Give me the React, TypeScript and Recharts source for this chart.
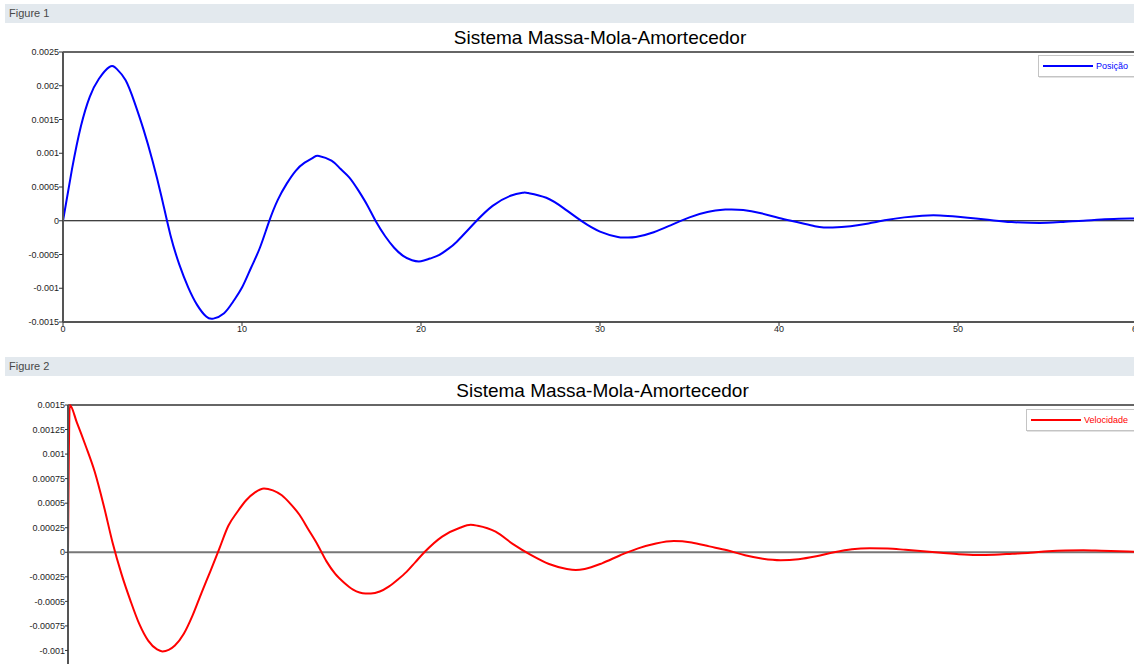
import React from 'react';
import { LineChart, Line, XAxis, YAxis, ReferenceLine, Legend } from 'recharts';

// valores (tempo em s)
const tempoPosicao = [
  0, 0.5, 1, 1.5, 2, 2.6, 3, 3.5, 4, 4.5, 5, 5.5, 6, 6.5, 7, 7.5, 8, 8.4, 9, 9.5, 10, 10.5,
  11, 11.5, 12, 12.5, 13, 13.5, 14, 14.3, 15, 15.5, 16, 16.5, 17, 17.5, 18, 18.5, 19, 19.5,
  20, 20.5, 21, 21.5, 22, 23, 24, 25, 25.7, 26, 27, 28, 29, 30, 31, 31.4, 32, 33, 34, 35, 36,
  37, 37.3, 38, 39, 40, 41, 42, 42.5, 43, 44, 45, 46, 47, 48, 49, 50, 51, 52, 53, 54, 55, 56,
  57, 58, 59, 60,
];
const posicao = [
  0, 0.76e-3, 1.4e-3, 1.84e-3, 2.1e-3, 2.28e-3, 2.25e-3, 2.08e-3, 1.75e-3, 1.35e-3, 0.89e-3,
  0.36e-3, -0.21e-3, -0.65e-3, -0.99e-3, -1.25e-3, -1.42e-3, -1.45e-3, -1.37e-3, -1.2e-3,
  -0.99e-3, -0.7e-3, -0.4e-3, -0.02e-3, 0.31e-3, 0.55e-3, 0.74e-3, 0.86e-3, 0.94e-3, 0.96e-3,
  0.89e-3, 0.77e-3, 0.64e-3, 0.45e-3, 0.23e-3, -0.02e-3, -0.23e-3, -0.4e-3, -0.52e-3,
  -0.585e-3, -0.6e-3, -0.56e-3, -0.51e-3, -0.42e-3, -0.31e-3, -0.03e-3, 0.22e-3, 0.37e-3,
  0.415e-3, 0.41e-3, 0.34e-3, 0.18e-3, -0.01e-3, -0.16e-3, -0.24e-3, -0.247e-3, -0.24e-3,
  -0.17e-3, -0.06e-3, 0.05e-3, 0.13e-3, 0.165e-3, 0.168e-3, 0.16e-3, 0.11e-3, 0.04e-3,
  -0.02e-3, -0.08e-3, -0.099e-3, -0.1e-3, -0.08e-3, -0.04e-3, 0.01e-3, 0.05e-3, 0.075e-3,
  0.078e-3, 0.06e-3, 0.035e-3, 0.005e-3, -0.02e-3, -0.03e-3, -0.03e-3, -0.015e-3, 0,
  0.02e-3, 0.03e-3, 0.035e-3,
];

const tempoVelocidade = [
  0, 0.1, 0.5, 1, 1.5, 2, 2.5, 3, 3.5, 4, 4.5, 5, 5.3, 6, 6.5, 7, 7.5, 8, 8.5, 9, 9.5, 10,
  10.5, 11, 11.5, 12, 12.5, 13, 13.5, 14, 14.5, 15, 15.5, 16, 16.7, 17, 17.5, 18, 18.5, 19,
  19.5, 20, 21, 22, 22.6, 23, 24, 25, 26, 27, 28, 28.5, 29, 30, 31, 32, 33, 34, 35, 36, 37,
  38, 39, 40, 41, 42, 43, 44, 45, 46, 47, 48, 49, 50, 51, 52, 53, 54, 55, 56, 57, 58, 59, 60,
];
const velocidade = [
  0, 1.5e-3, 1.32e-3, 1.08e-3, 0.82e-3, 0.48e-3, 0.1e-3, -0.22e-3, -0.49e-3, -0.73e-3,
  -0.9e-3, -0.99e-3, -1.01e-3, -0.95e-3, -0.83e-3, -0.64e-3, -0.41e-3, -0.19e-3, 0.04e-3,
  0.27e-3, 0.41e-3, 0.53e-3, 0.61e-3, 0.65e-3, 0.63e-3, 0.58e-3, 0.49e-3, 0.38e-3, 0.23e-3,
  0.08e-3, -0.09e-3, -0.22e-3, -0.31e-3, -0.38e-3, -0.42e-3, -0.42e-3, -0.4e-3, -0.35e-3,
  -0.28e-3, -0.2e-3, -0.1e-3, 0, 0.16e-3, 0.25e-3, 0.28e-3, 0.27e-3, 0.21e-3, 0.08e-3,
  -0.03e-3, -0.12e-3, -0.17e-3, -0.18e-3, -0.17e-3, -0.11e-3, -0.03e-3, 0.04e-3, 0.09e-3,
  0.115e-3, 0.1e-3, 0.06e-3, 0.02e-3, -0.03e-3, -0.065e-3, -0.08e-3, -0.07e-3, -0.04e-3, 0,
  0.03e-3, 0.04e-3, 0.038e-3, 0.025e-3, 0.01e-3, -0.005e-3, -0.02e-3, -0.027e-3, -0.025e-3,
  -0.015e-3, -0.005e-3, 0.01e-3, 0.018e-3, 0.02e-3, 0.015e-3, 0.01e-3, 0.005e-3,
];

const xTicks = [0, 10, 20, 30, 40, 50, 60];
const posTicks = [-0.0015, -0.001, -0.0005, 0, 0.0005, 0.001, 0.0015, 0.002, 0.0025];
const velTicks = [
  -0.001, -0.00075, -0.0005, -0.00025, 0, 0.00025, 0.0005, 0.00075, 0.001, 0.00125, 0.0015,
];

const dadosPos = tempoPosicao.map((t, i) => ({ t, posicao: posicao[i] }));
const dadosVel = tempoVelocidade.map((t, i) => ({ t, velocidade: velocidade[i] }));

const FONT = '"Liberation Sans", Arial, sans-serif';
const tickStyle = { fontSize: 9, fill: '#1e1e1e', fontFamily: FONT };

const LegendBox = (props: any) => {
  const item = props.payload && props.payload[0];
  if (!item) return null;
  return (
    <div
      style={{
        display: 'flex',
        alignItems: 'center',
        height: 22,
        width: props.boxWidth,
        border: '1px solid #c4c4c4',
        boxShadow: '1px 1px 0 #e2e2e2',
        background: '#fff',
        boxSizing: 'border-box',
        paddingLeft: 4,
      }}
    >
      <div style={{ width: 50, height: 2, background: item.color }} />
      <span style={{ marginLeft: 3, fontSize: 9, color: item.color, fontFamily: FONT }}>
        {item.value}
      </span>
    </div>
  );
};

const FigureBar = ({ label, top }: { label: string; top: number }) => (
  <div
    style={{
      position: 'absolute',
      left: 5,
      top,
      width: 1140,
      height: 19,
      background: '#e3e9ee',
      fontFamily: FONT,
      fontSize: 11,
      color: '#484848',
      lineHeight: '19px',
      paddingLeft: 4,
      boxSizing: 'border-box',
    }}
  >
    {label}
  </div>
);

const Titulo = ({ top, left, width }: { top: number; left: number; width: number }) => (
  <div
    style={{
      position: 'absolute',
      top,
      left,
      width,
      textAlign: 'center',
      fontFamily: FONT,
      fontSize: 19,
      lineHeight: '19px',
      color: '#000',
    }}
  >
    Sistema Massa-Mola-Amortecedor
  </div>
);

export default function App() {
  return (
    <div
      style={{
        position: 'relative',
        width: 1134,
        height: 664,
        overflow: 'hidden',
        background: '#fff',
      }}
    >
      <style>{'body{margin:0;overflow:hidden}'}</style>

      <FigureBar label="Figure 1" top={4} />
      <Titulo top={28} left={63} width={1074} />
      <div style={{ position: 'absolute', left: 0, top: 22 }}>
        <LineChart
          width={1160}
          height={330}
          data={dadosPos}
          margin={{ top: 30, right: 23, left: 0, bottom: 6 }}
        >
          <XAxis
            dataKey="t"
            type="number"
            domain={[0, 60]}
            ticks={xTicks}
            interval={0}
            height={24}
            tickSize={4}
            tickMargin={0}
            tick={tickStyle}
            axisLine={{ stroke: '#555', strokeWidth: 2 }}
            tickLine={{ stroke: '#333' }}
          />
          <YAxis
            type="number"
            domain={[-0.0015, 0.0025]}
            ticks={posTicks}
            interval={0}
            width={63}
            tickSize={4}
            tickMargin={0}
            tick={tickStyle}
            tickFormatter={(v: number) => String(v)}
            axisLine={{ stroke: '#555', strokeWidth: 2 }}
            tickLine={{ stroke: '#333' }}
          />
          <ReferenceLine y={0.0025} stroke="#333" strokeWidth={1.5} />
          <ReferenceLine y={0} stroke="#000" strokeWidth={1.2} />
          <Legend
            layout="vertical"
            align="center"
            verticalAlign="middle"
            wrapperStyle={{ left: 1038, top: 33, width: 110 }}
            content={(p: any) => <LegendBox {...p} boxWidth={110} />}
          />
          <Line
            type="natural"
            dataKey="posicao"
            name="Posição"
            stroke="#0000ff"
            strokeWidth={2}
            dot={false}
            isAnimationActive={false}
          />
        </LineChart>
      </div>

      <FigureBar label="Figure 2" top={357} />
      <Titulo top={381} left={68} width={1069} />
      <div style={{ position: 'absolute', left: 0, top: 375 }}>
        <LineChart
          width={1160}
          height={330}
          data={dadosVel}
          margin={{ top: 30, right: 23, left: 0, bottom: 30 }}
        >
          <XAxis dataKey="t" type="number" domain={[0, 60]} hide />
          <YAxis
            type="number"
            domain={[-0.00125, 0.0015]}
            ticks={velTicks}
            interval={0}
            width={68}
            tickSize={3}
            tickMargin={0}
            tick={tickStyle}
            tickFormatter={(v: number) => String(v)}
            axisLine={{ stroke: '#555', strokeWidth: 2 }}
            tickLine={{ stroke: '#333' }}
          />
          <ReferenceLine y={0.0015} stroke="#333" strokeWidth={1.5} />
          <ReferenceLine y={0} stroke="#777" strokeWidth={2} />
          <Legend
            layout="vertical"
            align="center"
            verticalAlign="middle"
            wrapperStyle={{ left: 1026, top: 34, width: 122 }}
            content={(p: any) => <LegendBox {...p} boxWidth={122} />}
          />
          <Line
            type="monotone"
            dataKey="velocidade"
            name="Velocidade"
            stroke="#ff0000"
            strokeWidth={2}
            dot={false}
            isAnimationActive={false}
          />
        </LineChart>
      </div>
    </div>
  );
}
